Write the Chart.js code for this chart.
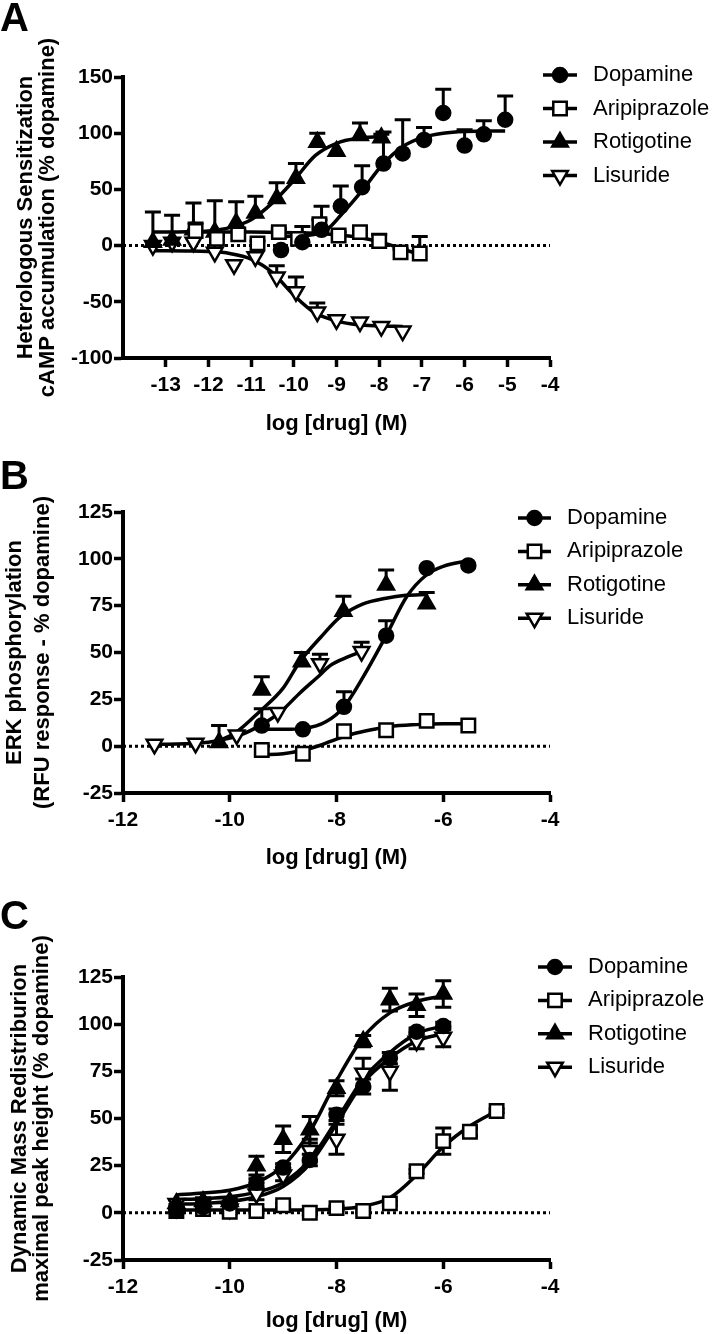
<!DOCTYPE html>
<html>
<head>
<meta charset="utf-8">
<script src="https://cdn.jsdelivr.net/npm/chart.js@4.4.1/dist/chart.umd.min.js"></script>
<style>
  body { margin: 0; background: #fff; width: 719px; height: 1334px; position: relative; overflow: hidden; }
  .panel { position: absolute; left: 0; width: 719px; }
  .letter { position: absolute; left: 0; font: bold 40px "Liberation Sans", Arial, sans-serif; line-height: 40px; color: #000; }
  canvas { display: block; }
</style>
</head>
<body>
<div class="panel" style="top:0"><canvas id="graphA" width="719" height="440"></canvas></div>
<div class="panel" style="top:440px"><canvas id="graphB" width="719" height="440"></canvas></div>
<div class="panel" style="top:880px"><canvas id="graphC" width="719" height="454"></canvas></div>
<div class="letter" style="top:-3px">A</div>
<div class="letter" style="top:455px">B</div>
<div class="letter" style="top:895px">C</div>
<script>
var FONT = '"Liberation Sans", Arial, Helvetica, sans-serif';

// ---- Panel A : heterologous sensitization (cAMP) ----
var aDopX = [-10.3, -9.8, -9.35, -8.9, -8.4, -7.9, -7.45, -6.95, -6.5, -6.0, -5.55, -5.05];
var aDopY = [-4, 3, 14, 35, 52, 73, 82, 94, 118, 89, 99, 112];
var aDopErr = [0, 14, 21, 18, 19, 28, 30, 11, 21, 14, 12, 21];
var aAripX = [-12.3, -11.8, -11.3, -10.85, -10.35, -9.9, -9.4, -8.95, -8.45, -8.0, -7.5, -7.05];
var aAripY = [13, 6, 10, 2, 12, 6, 19, 9, 12, 4, -6, -7];
var aAripErr = [7, 3, 3, 2, 3, 3, 4, 3, 3, 6, 3, 15];
var aRotX = [-13.3, -12.85, -12.35, -11.85, -11.35, -10.9, -10.4, -9.95, -9.45, -9.0, -8.45, -7.95];
var aRotY = [3, 5, 14, 12, 20, 29, 42, 60, 92, 84, 98, 96];
var aRotErr = [27, 22, 24, 28, 19, 15, 14, 13, 8, 0, 11, 3];
var aLisX = [-13.3, -12.85, -12.35, -11.85, -11.4, -10.9, -10.4, -9.95, -9.45, -9.0, -8.45, -7.95, -7.45];
var aLisY = [0, 3, 3, -6, -17, -10, -28, -41, -59, -66, -68, -72, -76];
var aLisErr = [0, 0, 0, 0, 0, 0, 10, 13, 8, 0, 0, 0, 0];
// fitted curves
var aDopFitX = [-10.3, -10, -9.5, -9.2, -8.9, -8.4, -7.9, -7.45, -7, -6.5, -6, -5.05];
var aDopFitY = [8, 8.5, 10, 15, 27, 49, 73, 88, 96, 100, 101.5, 102];
var aAripFitX = [-12.4, -11, -10, -9.5, -9, -8.5, -8, -7.5, -7.05];
var aAripFitY = [12, 12, 11.5, 11, 9.5, 7.5, 3.5, -2.5, -8];
var aRotFitX = [-13.3, -12.5, -12, -11.5, -11, -10.5, -10, -9.5, -9, -8.5, -7.95];
var aRotFitY = [12, 12.3, 13, 16, 23, 38, 58, 80, 91, 95.5, 97];
var aLisFitX = [-13.3, -12.5, -12, -11.5, -11, -10.5, -10, -9.5, -9, -8.5, -8, -7.45];
var aLisFitY = [-4.5, -4.7, -5.2, -7, -12, -24, -44, -60, -67, -70.5, -71.5, -72];
var aXTicks = [-13, -12, -11, -10, -9, -8, -7, -6, -5, -4];
var aYTicks = [-100, -50, 0, 50, 100, 150];

// ---- Panel B : ERK phosphorylation ----
var bDopX = [-9.4, -8.63, -7.86, -7.07, -6.31, -5.53];
var bDopY = [11, 9, 21, 59, 95, 96.5];
var bDopErr = [9, 0, 8, 8, 0, 0];
var bAripX = [-9.4, -8.63, -7.86, -7.07, -6.31, -5.53];
var bAripY = [-2, -4, 8, 8.5, 13.5, 11];
var bAripErr = [0, 0, 0, 0, 0, 0];
var bRotX = [-10.2, -9.4, -8.65, -7.87, -7.07, -6.31];
var bRotY = [2, 30, 45, 72, 86, 76];
var bRotErr = [9, 7, 5, 8, 8, 6];
var bLisX = [-11.41, -10.64, -9.87, -9.1, -8.31, -7.53];
var bLisY = [1, 1.5, 6, 18, 44, 50.5];
var bLisErr = [0, 0, 0, 0, 5, 5];
var bDopFitX = [-9.4, -9, -8.6, -8.2, -7.86, -7.5, -7.07, -6.68, -6.31, -6, -5.53];
var bDopFitY = [9, 9, 9.5, 13, 21, 37, 59, 80, 91.5, 96, 99];
var bAripFitX = [-9.4, -9, -8.63, -8.3, -8, -7.7, -7.3, -7, -6.5, -6, -5.53];
var bAripFitY = [-4.5, -4, -2.2, 0.5, 3.8, 6.5, 9, 10.5, 11.5, 12, 12];
var bRotFitX = [-10.2, -9.9, -9.44, -9, -8.69, -8.3, -7.93, -7.5, -7.07, -6.7, -6.31];
var bRotFitY = [3, 7, 18.5, 31, 45, 58, 69, 76, 79, 80.5, 81];
var bLisFitX = [-11.4, -10.6, -10.2, -9.8, -9.4, -9.06, -8.7, -8.31, -8.12, -7.8, -7.53];
var bLisFitY = [1, 1.5, 3, 6, 11.5, 18, 28, 38, 43, 47.5, 50.5];
var bXTicks = [-12, -10, -8, -6, -4];
var bYTicks = [-25, 0, 25, 50, 75, 100, 125];

// ---- Panel C : dynamic mass redistribution ----
var cX = [-11, -10.5, -10, -9.5, -9, -8.5, -8, -7.5, -7, -6.5, -6];
var cDopY = [1, 3, 5, 16, 24, 28, 52, 67, 82, 96, 99];
var cDopErr = [1, 1, 1, 2, 2, 3, 3, 4, 3, 2, 2];
var cAripX = [-11, -10.5, -10, -9.5, -9, -8.5, -8, -7.5, -7, -6.5, -6, -5.5, -5];
var cAripY = [1, 2, 0.5, 1, 4, 0, 2.5, 1, 5, 22, 38, 43, 54];
var cAripErr = [1, 1, 1, 1, 1, 1, 1, 1, 1, 1, 7, 2, 1];
var cRotY = [5, 6, 6, 25, 39, 44, 66, 91, 113, 110, 116];
var cRotErr = [2, 2, 2, 5, 7, 7, 4, 3, 6, 6, 7];
var cLisY = [5, 5, 2, 10, 20, 33, 39, 74, 75, 91, 93];
var cLisErr = [2, 2, 2, 3, 3, 6, 8, 8, 10, 4, 5];
var cDopFitY = [7, 7.5, 8.5, 11, 16, 28, 49, 71, 85, 95, 99];
var cRotFitY = [9.5, 10.5, 12, 16, 25, 43, 70, 93, 106, 112, 115];
var cLisFitY = [4.5, 5, 6, 8.5, 14, 26, 47, 69, 82, 91, 95];
var cAripFitX = [-11, -9, -8, -7.5, -7, -6.5, -6, -5.5, -5];
var cAripFitY = [1.5, 1.5, 2, 3.5, 8, 20, 35, 46, 54];
var cXTicks = [-12, -10, -8, -6, -4];
var cYTicks = [-25, 0, 25, 50, 75, 100, 125];

// marker look for the four drugs (same order in every panel)
var SHAPES = [
  { label: 'Dopamine', style: 'circle', r: 7, rot: 0, fill: '#000' },
  { label: 'Aripiprazole', style: 'rect', r: 9.5, rot: 0, fill: '#fff' },
  { label: 'Rotigotine', style: 'triangle', r: 9, rot: 0, fill: '#000' },
  { label: 'Lisuride', style: 'triangle', r: 9, rot: 180, fill: '#fff' }
];

function pts(xs, ys) {
  return xs.map(function (x, i) { return { x: x, y: ys[i] }; });
}

function drawMarker(ctx, sh, x, y) {
  ctx.fillStyle = sh.fill;
  ctx.strokeStyle = '#000';
  ctx.lineWidth = 2.5;
  if (Chart.helpers && Chart.helpers.drawPoint) {
    Chart.helpers.drawPoint(ctx, { pointStyle: sh.style, rotation: sh.rot, radius: sh.r, borderWidth: 2.5 }, x, y);
    return;
  }
  ctx.beginPath();
  ctx.arc(x, y, sh.r, 0, Math.PI * 2);
  ctx.fill(); ctx.stroke();
}

// error bars drawn under the markers
var errorBars = {
  id: 'errorBars',
  beforeDatasetsDraw: function (chart) {
    var ctx = chart.ctx, xs = chart.scales.x, ys = chart.scales.y;
    ctx.save();
    ctx.strokeStyle = '#000';
    ctx.lineWidth = 3;
    chart.data.datasets.forEach(function (ds) {
      if (!ds.errors) return;
      ds.data.forEach(function (p, j) {
        var e = ds.errors[j];
        if (!e) return;
        var x = xs.getPixelForValue(p.x);
        var yTop = ys.getPixelForValue(p.y + e);
        var yBot = ds.errMode === 'both' ? ys.getPixelForValue(p.y - e) : ys.getPixelForValue(p.y);
        ctx.beginPath();
        ctx.moveTo(x, yTop); ctx.lineTo(x, yBot);
        ctx.moveTo(x - 8, yTop); ctx.lineTo(x + 8, yTop);
        if (ds.errMode === 'both') { ctx.moveTo(x - 8, yBot); ctx.lineTo(x + 8, yBot); }
        ctx.stroke();
      });
    });
    ctx.restore();
  }
};

var drugLegend = {
  id: 'drugLegend',
  afterDraw: function (chart) {
    var L = chart.options.plugins.drugLegend;
    var ctx = chart.ctx;
    ctx.save();
    SHAPES.forEach(function (sh, i) {
      var y = L.top + i * L.gap;
      ctx.strokeStyle = '#000';
      ctx.lineWidth = 3.5;
      ctx.beginPath(); ctx.moveTo(L.x1, y); ctx.lineTo(L.x2, y); ctx.stroke();
      drawMarker(ctx, sh, (L.x1 + L.x2) / 2, y);
      ctx.fillStyle = '#000';
      ctx.font = '22px ' + FONT;
      ctx.textBaseline = 'middle';
      ctx.textAlign = 'left';
      ctx.fillText(sh.label, L.tx, y);
    });
    ctx.restore();
  }
};

function makeChart(id, p) {
  var ds = [];
  p.series.forEach(function (s, i) {
    var sh = SHAPES[i];
    ds.push({
      label: sh.label, data: pts(s.x, s.y), errors: s.err, errMode: p.errMode,
      showLine: false, pointStyle: sh.style, pointRotation: sh.rot,
      pointRadius: sh.r, pointHoverRadius: sh.r,
      pointBackgroundColor: sh.fill, pointBorderColor: '#000', pointBorderWidth: 2.5,
      order: 0
    });
  });
  p.series.forEach(function (s) {
    ds.push({
      data: pts(s.fitX, s.fitY), showLine: true, pointRadius: 0,
      borderColor: '#000', borderWidth: 3.5, cubicInterpolationMode: 'monotone', order: 1
    });
  });
  ds.push({
    data: [{ x: p.xMin, y: 0 }, { x: p.xMax, y: 0 }], showLine: true, pointRadius: 0,
    borderColor: '#000', borderWidth: 3, borderDash: [3, 3], order: 2
  });

  var tickFont = { family: FONT, size: 21, weight: 'bold' };
  return new Chart(id, {
    type: 'scatter',
    data: { datasets: ds },
    plugins: [errorBars, drugLegend],
    options: {
      responsive: false,
      animation: false,
      events: [],
      layout: { padding: { left: 0, right: p.padRight, top: p.padTop, bottom: 0 } },
      plugins: { legend: { display: false }, tooltip: { enabled: false }, drugLegend: p.legend },
      scales: {
        x: {
          type: 'linear', min: p.xMin, max: p.xMax,
          afterBuildTicks: function (s) { s.ticks = p.xTicks.map(function (v) { return { value: v }; }); },
          afterFit: function (s) { s.height = p.xHeight; },
          border: { display: true, color: '#000', width: 4 },
          grid: { drawOnChartArea: false, drawTicks: true, tickLength: 9, tickWidth: 3.5, tickColor: '#000', color: '#000' },
          ticks: { color: '#000', font: tickFont, padding: 6, maxRotation: 0, autoSkip: false,
                   callback: function (v) { return String(v); } },
          title: { display: true, text: 'log [drug] (M)', color: '#000',
                   font: { family: FONT, size: 22, weight: 'bold' },
                   padding: { top: 0, bottom: p.xTitlePad } }
        },
        y: {
          type: 'linear', min: p.yMin, max: p.yMax,
          afterBuildTicks: function (s) { s.ticks = p.yTicks.map(function (v) { return { value: v }; }); },
          afterFit: function (s) { s.width = 123; },
          border: { display: true, color: '#000', width: 4 },
          grid: { drawOnChartArea: false, drawTicks: true, tickLength: 9, tickWidth: 3.5, tickColor: '#000', color: '#000' },
          ticks: { color: '#000', font: tickFont, padding: 1, autoSkip: false,
                   callback: function (v) { return String(v); } },
          title: { display: true, text: p.yTitle, color: '#000',
                   font: { family: FONT, size: 22, weight: 'bold', lineHeight: p.yTitleLH },
                   padding: { top: p.yTitlePad, bottom: 0 } }
        }
      }
    }
  });
}

var graphA = makeChart('graphA', {
  series: [
    { x: aDopX, y: aDopY, err: aDopErr, fitX: aDopFitX, fitY: aDopFitY },
    { x: aAripX, y: aAripY, err: aAripErr, fitX: aAripFitX, fitY: aAripFitY },
    { x: aRotX, y: aRotY, err: aRotErr, fitX: aRotFitX, fitY: aRotFitY },
    { x: aLisX, y: aLisY, err: aLisErr, fitX: aLisFitX, fitY: aLisFitY }
  ],
  errMode: 'up',
  xMin: -14, xMax: -4, yMin: -100, yMax: 150, xTicks: aXTicks, yTicks: aYTicks,
  yTitle: ['Heterologous Sensitization', 'cAMP accumulation (% dopamine)'],
  yTitleLH: 1.0, yTitlePad: 15,
  padTop: 77, padRight: 169, xHeight: 82, xTitlePad: 3,
  legend: { x1: 543, x2: 577, tx: 593, top: 75, gap: 33.5 }
});

var graphB = makeChart('graphB', {
  series: [
    { x: bDopX, y: bDopY, err: bDopErr, fitX: bDopFitX, fitY: bDopFitY },
    { x: bAripX, y: bAripY, err: bAripErr, fitX: bAripFitX, fitY: bAripFitY },
    { x: bRotX, y: bRotY, err: bRotErr, fitX: bRotFitX, fitY: bRotFitY },
    { x: bLisX, y: bLisY, err: bLisErr, fitX: bLisFitX, fitY: bLisFitY }
  ],
  errMode: 'up',
  xMin: -12, xMax: -4, yMin: -25, yMax: 125, xTicks: bXTicks, yTicks: bYTicks,
  yTitle: ['ERK phosphorylation', '(RFU response - % dopamine)'],
  yTitleLH: 1.27, yTitlePad: 1,
  padTop: 72, padRight: 169, xHeight: 87, xTitlePad: 9,
  legend: { x1: 518, x2: 551, tx: 567, top: 78, gap: 33.4 }
});

var graphC = makeChart('graphC', {
  series: [
    { x: cX, y: cDopY, err: cDopErr, fitX: cX, fitY: cDopFitY },
    { x: cAripX, y: cAripY, err: cAripErr, fitX: cAripFitX, fitY: cAripFitY },
    { x: cX, y: cRotY, err: cRotErr, fitX: cX, fitY: cRotFitY },
    { x: cX, y: cLisY, err: cLisErr, fitX: cX, fitY: cLisFitY }
  ],
  errMode: 'both',
  xMin: -12, xMax: -4, yMin: -25, yMax: 125, xTicks: cXTicks, yTicks: cYTicks,
  yTitle: ['Dynamic Mass Redistriburion', 'maximal peak height (% dopamine)'],
  yTitleLH: 1.0, yTitlePad: 9,
  padTop: 97, padRight: 169, xHeight: 74, xTitlePad: 0,
  legend: { x1: 538, x2: 572, tx: 588, top: 87, gap: 33.4 }
});
</script>
</body>
</html>
